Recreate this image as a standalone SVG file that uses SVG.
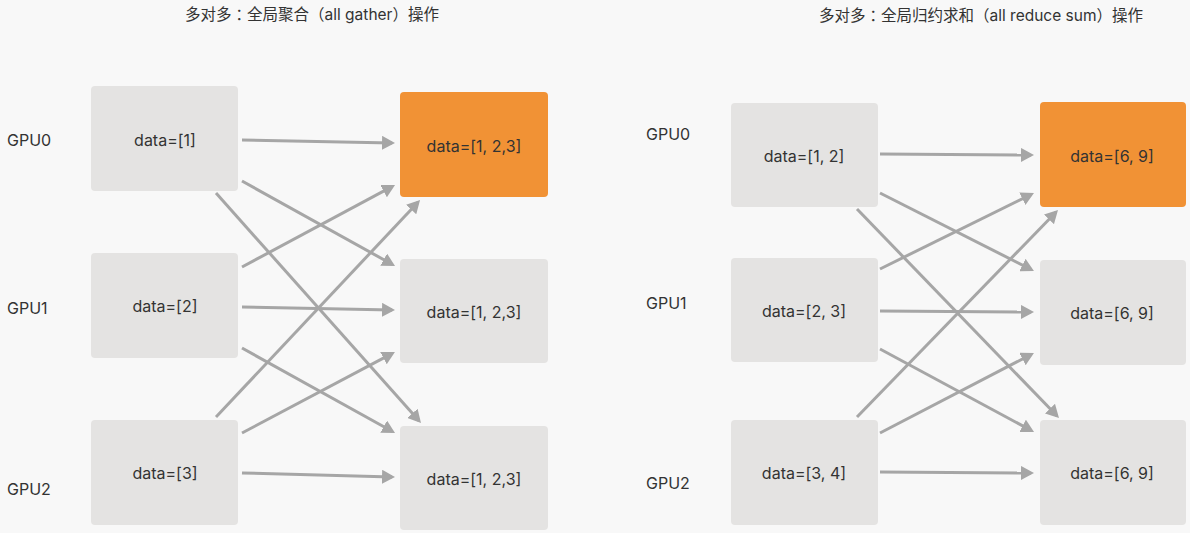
<svg xmlns="http://www.w3.org/2000/svg" width="1190" height="533" viewBox="0 0 1190 533">
<defs>
<style>
.bg{fill:#f8f8f8}
.box{fill:#e4e3e2}
.hot{fill:#f19235}
.t{font-family:Inter,"Liberation Sans","Noto Sans CJK SC",sans-serif;font-size:16px;fill:#333;text-anchor:middle;dominant-baseline:central}
.lbl{font-family:Inter,"Liberation Sans",sans-serif;font-size:16px;fill:#333;dominant-baseline:central}
.title{font-family:Inter,"Noto Sans CJK SC",sans-serif;font-size:15.5px;fill:#333;dominant-baseline:central}
.jp{font-family:"Noto Sans CJK JP",sans-serif}
.c line{stroke:#a6a6a6;stroke-width:3;fill:none;marker-end:url(#ah)}
</style>
<marker id="ah" markerUnits="userSpaceOnUse" markerWidth="13" markerHeight="14" refX="10" refY="7" orient="auto">
<path d="M0,0 L13,7 L0,14 z" fill="#a6a6a6"/>
</marker>
</defs>
<rect class="bg" x="0" y="0" width="1190" height="533"/>
<text class="title" x="185" y="14">多对多<tspan class="jp">：</tspan>全局聚合（all gather）操作</text>
<text class="title" x="819" y="15">多对多<tspan class="jp">：</tspan>全局归约求和（all reduce sum）操作</text>
<text class="lbl" x="7" y="140">GPU0</text>
<text class="lbl" x="7" y="308">GPU1</text>
<text class="lbl" x="7" y="489">GPU2</text>
<text class="lbl" x="646" y="134">GPU0</text>
<text class="lbl" x="646" y="303">GPU1</text>
<text class="lbl" x="646" y="483">GPU2</text>
<g class="c" id="connectors">
<line x1="242" y1="140" x2="392" y2="143"/>
<line x1="242" y1="181" x2="392.4" y2="264.5"/>
<line x1="216" y1="193" x2="419" y2="420.8"/>
<line x1="242" y1="267" x2="392.4" y2="186.4"/>
<line x1="242" y1="307" x2="392" y2="310"/>
<line x1="242" y1="348" x2="392.4" y2="431.5"/>
<line x1="216" y1="417" x2="418" y2="202.2"/>
<line x1="242" y1="433" x2="392.3" y2="353.4"/>
<line x1="242" y1="473" x2="392" y2="477"/>
<line x1="880" y1="154" x2="1031" y2="155"/>
<line x1="880" y1="193" x2="1031.3" y2="269.6"/>
<line x1="857" y1="209" x2="1056.9" y2="415.8"/>
<line x1="880" y1="269" x2="1031.3" y2="194.3"/>
<line x1="880" y1="311" x2="1031" y2="312"/>
<line x1="880" y1="349" x2="1031.4" y2="430.6"/>
<line x1="857" y1="417" x2="1055.9" y2="212.2"/>
<line x1="880" y1="433" x2="1031.3" y2="354.4"/>
<line x1="880" y1="472" x2="1031" y2="473"/>
</g>
<g id="ag-src0"><rect class="box" x="91" y="86" width="147" height="105" rx="4"/><text class="t" x="165" y="140">data=[1]</text></g>
<g id="ag-src1"><rect class="box" x="91" y="253" width="147" height="105" rx="4"/><text class="t" x="165" y="306">data=[2]</text></g>
<g id="ag-src2"><rect class="box" x="91" y="420" width="147" height="105" rx="4"/><text class="t" x="165" y="473">data=[3]</text></g>
<g id="ag-dst0"><rect class="hot" x="400" y="92" width="148" height="105" rx="4"/><text class="t" x="474" y="146">data=[1, 2,3]</text></g>
<g id="ag-dst1"><rect class="box" x="400" y="259" width="148" height="104" rx="4"/><text class="t" x="474" y="312">data=[1, 2,3]</text></g>
<g id="ag-dst2"><rect class="box" x="400" y="426" width="148" height="104" rx="4"/><text class="t" x="474" y="479">data=[1, 2,3]</text></g>
<g id="ar-src0"><rect class="box" x="731" y="103" width="147" height="104" rx="4"/><text class="t" x="804" y="156">data=[1, 2]</text></g>
<g id="ar-src1"><rect class="box" x="731" y="258" width="147" height="104" rx="4"/><text class="t" x="804" y="311">data=[2, 3]</text></g>
<g id="ar-src2"><rect class="box" x="731" y="420" width="147" height="105" rx="4"/><text class="t" x="804" y="473">data=[3, 4]</text></g>
<g id="ar-dst0"><rect class="hot" x="1040" y="102" width="146" height="105" rx="4"/><text class="t" x="1112" y="156">data=[6, 9]</text></g>
<g id="ar-dst1"><rect class="box" x="1040" y="260" width="146" height="105" rx="4"/><text class="t" x="1112" y="313">data=[6, 9]</text></g>
<g id="ar-dst2"><rect class="box" x="1040" y="420" width="146" height="105" rx="4"/><text class="t" x="1112" y="473">data=[6, 9]</text></g>
</svg>
